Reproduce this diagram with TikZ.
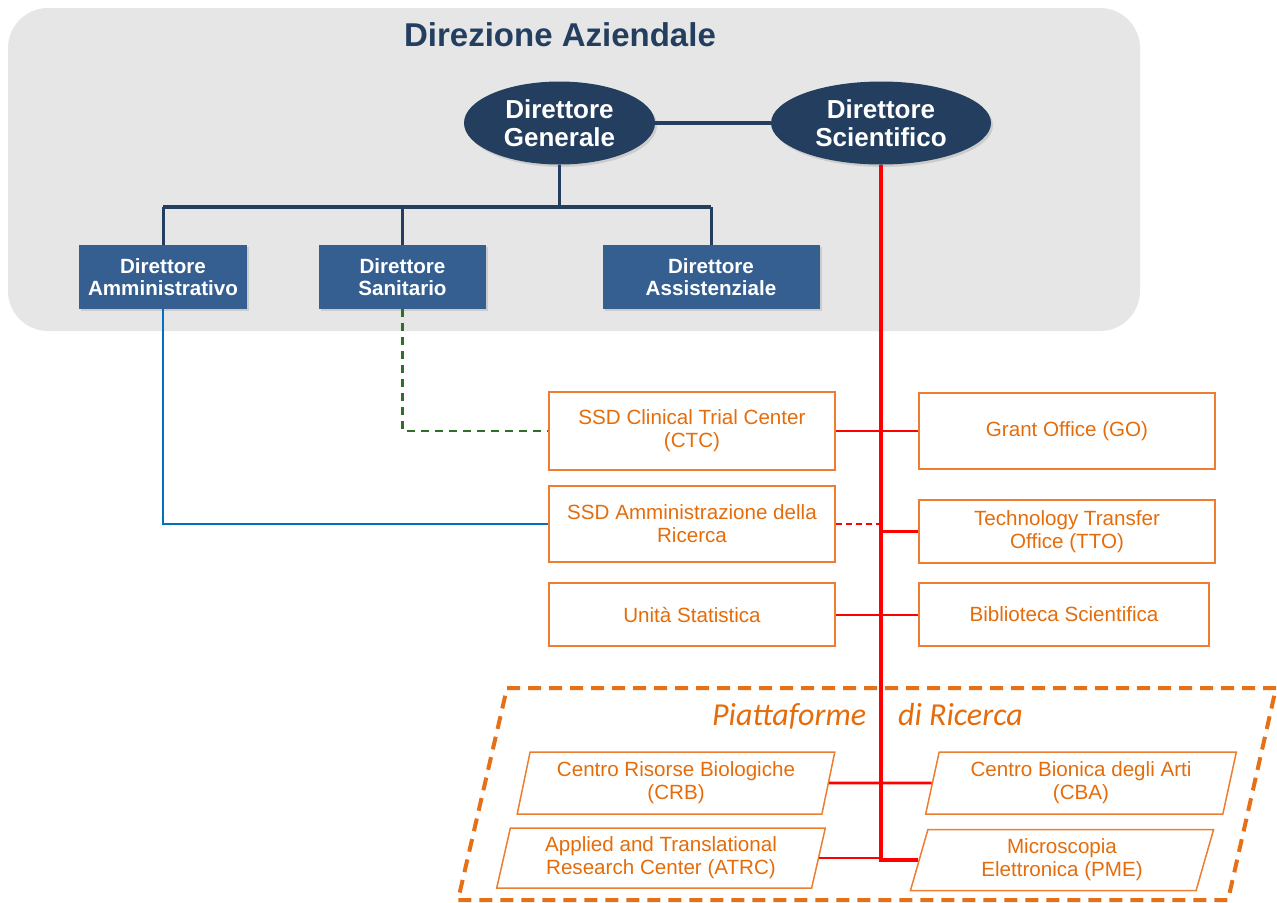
\documentclass[tikz,border=0pt]{standalone}
\usepackage{fontspec}
\setmainfont{Liberation Sans}
\newfontfamily\calibri{Carlito}
\usepackage{tikz}
\usetikzlibrary{shapes.geometric,shadows}
\definecolor{panel}{RGB}{230,230,230}
\definecolor{navy}{RGB}{36,62,96}
\definecolor{steel}{RGB}{54,95,145}
\definecolor{rosso}{RGB}{255,0,0}
\definecolor{obox}{RGB}{237,125,49}
\definecolor{otext}{RGB}{228,108,10}
\definecolor{oframe}{RGB}{230,112,24}
\definecolor{lblue}{RGB}{0,112,192}
\definecolor{dgreen}{RGB}{46,112,40}

\begin{document}
\begin{tikzpicture}[x=0.5pt,y=-0.5pt,
  capo/.style={ellipse,fill=navy,text=white,inner sep=0pt,align=center,minimum height=41.5pt,
    font=\fontsize{13}{14}\selectfont\bfseries,drop shadow={opacity=.25,shadow xshift=1pt,shadow yshift=-1.2pt}},
  dirbox/.style={rectangle,fill=steel,text=white,inner sep=0pt,align=center,minimum height=32pt,
    font=\fontsize{10.3}{11}\selectfont\bfseries,drop shadow={opacity=.25,shadow xshift=1pt,shadow yshift=-1.2pt}},
  ufficio/.style={rectangle,draw=obox,line width=0.75pt,text=otext,inner sep=0pt,align=center,
    font=\fontsize{10.3}{11.5}\selectfont},
  piatt/.style={trapezium,trapezium left angle=76,trapezium right angle=104,trapezium stretches=true,
    draw=obox,line width=0.75pt,text=otext,inner sep=0pt,align=center,font=\fontsize{10.3}{11.5}\selectfont},
  navyline/.style={navy,line width=1.5pt},
  ricerca/.style={rosso,line width=1.4pt}]
\useasboundingbox (0,0) rectangle (1277,902);
\fill[panel,rounded corners=20pt] (8,8) rectangle (1140,331);
\node[text=navy,font=\fontsize{16.5}{18}\selectfont\bfseries,anchor=base] (titolo) at (560,46) {Direzione Aziendale};

\node[capo,minimum width=95.5pt] (dg) at (559.5,123) {Direttore\\Generale};
\node[capo,minimum width=110pt] (ds) at (881,123) {Direttore\\Scientifico};
\node[dirbox,minimum width=84pt] (amm) at (163,277) {Direttore\\Amministrativo};
\node[dirbox,minimum width=83.5pt] (san) at (402.5,277) {Direttore\\Sanitario};
\node[dirbox,minimum width=108.5pt] (ass) at (711,277) {Direttore\\Assistenziale};
\coordinate (bar) at (0,207);
\draw[navyline,line width=2pt] (dg) -- (ds);
\draw[navyline] (dg.south) -- (dg.south |- bar);
\draw[navyline] (amm.north) -- (amm.north |- bar);
\draw[navyline] (ass.north) -- (ass.north |- bar);
\draw[navyline,line width=2.2pt] (amm.north |- bar) -- (ass.north |- bar);
\draw[navyline] (san.north) -- (san.north |- bar);

\node[ufficio,minimum width=143pt,minimum height=39pt] (ctc) at (692,431) {SSD Clinical Trial Center\\(CTC)};
\node[ufficio,minimum width=148pt,minimum height=38pt] (go) at (1067,431) {Grant Office (GO)};
\node[ufficio,minimum width=143pt,minimum height=38pt] (sar) at (692,524) {SSD Amministrazione della\\Ricerca};
\node[ufficio,minimum width=148pt,minimum height=31.5pt] (tto) at (1067,531.5) {Technology Transfer\\Office (TTO)};
\node[ufficio,minimum width=143pt,minimum height=31.5pt] (stat) at (692,614.5) {Unità Statistica};
\node[ufficio,minimum width=145pt,minimum height=31.5pt] (bib) at (1064,614.5) {Biblioteca Scientifica};

\draw[oframe,line width=2pt,dash pattern=on 6.5pt off 4pt] (507,688) -- (1276,688) -- (1228,900) -- (458,900) -- cycle;
\node[text=otext,font=\calibri\itshape\fontsize{16}{18}\selectfont,anchor=base] (piattaforme) at (867.5,725) {Piattaforme\hspace{16pt}di Ricerca};
\node[piatt,minimum width=159pt,minimum height=31pt] (crb) at (676,783) {Centro Risorse Biologiche\\(CRB)};
\node[piatt,minimum width=155.5pt,minimum height=31pt] (cba) at (1081,783) {Centro Bionica degli Arti\\(CBA)};
\node[piatt,minimum width=164.5pt,minimum height=30pt] (atrc) at (661,858) {Applied and Translational\\Research Center (ATRC)};
\node[piatt,minimum width=152.5pt,minimum height=30.5pt] (pme) at (1062,860) {Microscopia\\Elettronica (PME)};

\draw[lblue,line width=1.3pt] (amm.south) |- (sar.west);
\draw[dgreen,line width=1.3pt,dash pattern=on 4pt off 3pt] (san.south) |- (ctc.west);
\draw[ricerca,line width=1.6pt] (ds.south) |- (pme.west);
\draw[ricerca] (ctc.east) -- (go.west);
\draw[ricerca,dash pattern=on 3pt off 2pt] (sar.east) -- (sar.east -| ds.south);
\draw[ricerca] (tto.west) -- (tto.west -| ds.south);
\draw[ricerca,line width=1pt] (stat.east) -- (bib.west);
\draw[ricerca] (crb.east) -- (cba.west);
\draw[ricerca] (atrc.east) -- (atrc.east -| ds.south);
\end{tikzpicture}
\end{document}
